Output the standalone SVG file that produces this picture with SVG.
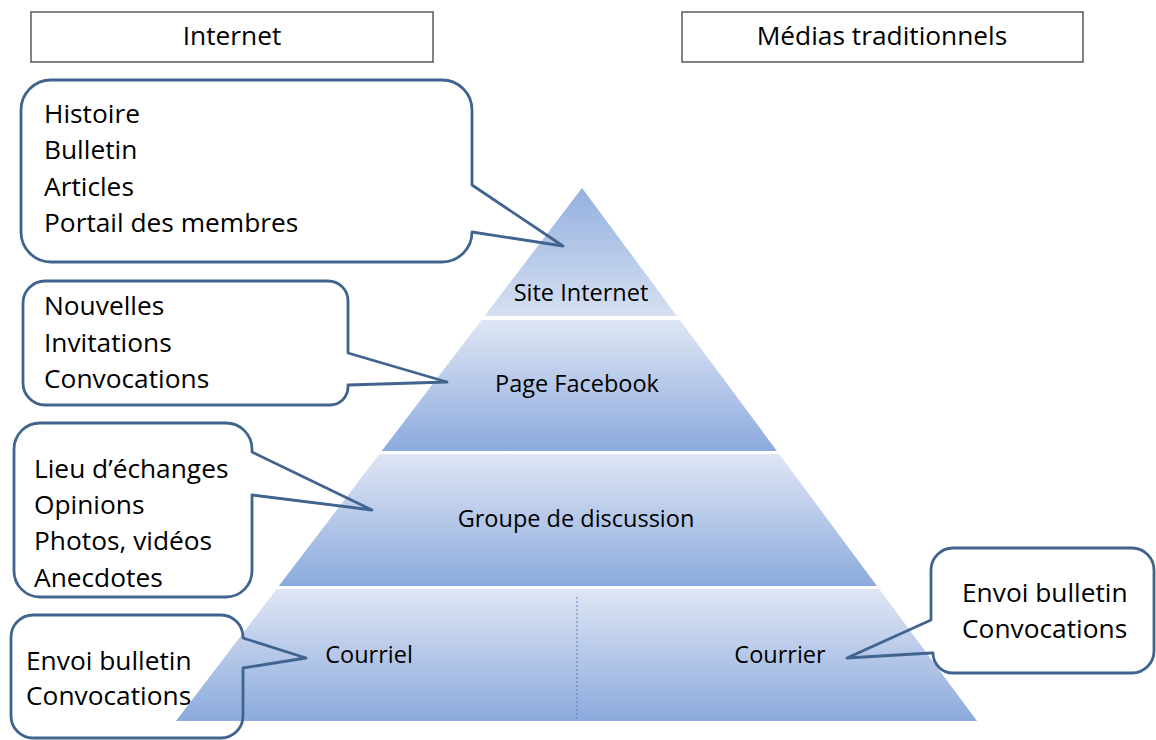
<svg xmlns="http://www.w3.org/2000/svg" width="1156" height="740" viewBox="0 0 1156 740">
  <style>
    .hdr { fill: #ffffff; stroke: #595959; stroke-width: 1.5; }
    .callout { fill: none; stroke: #41648f; stroke-width: 2.8; stroke-linejoin: round; }
    .txt { font-family: "Open Sans", "Noto Sans", sans-serif; fill: #000000; }
    .big { font-size: 26.3px; }
    .lbl { font-size: 23.5px; text-anchor: middle; }
    .hdrtxt { font-size: 26.3px; text-anchor: middle; }
  </style>
  <defs>
    <linearGradient id="bandFill" x1="0" y1="0" x2="0" y2="1">
      <stop offset="0" stop-color="#dfe6f4"/>
      <stop offset="1" stop-color="#8caadd"/>
    </linearGradient>
    <linearGradient id="topFill" x1="0" y1="0" x2="0" y2="1">
      <stop offset="0" stop-color="#93b0df"/>
      <stop offset="1" stop-color="#d7e0f2"/>
    </linearGradient>
  </defs>

  <rect width="1156" height="740" fill="#ffffff"/>

  <!-- column headers -->
  <g id="hdr-internet">
    <rect class="hdr" x="31" y="12" width="402" height="50"/>
    <text class="txt hdrtxt" x="232" y="45">Internet</text>
  </g>
  <g id="hdr-medias">
    <rect class="hdr" x="682" y="12" width="401" height="50"/>
    <text class="txt hdrtxt" x="882" y="45">Médias traditionnels</text>
  </g>

  <!-- pyramid levels -->
  <g id="level-site">
    <polygon points="582,188 676.9,316 484.5,316" fill="url(#topFill)"/>
    <text class="txt lbl" x="581" y="301">Site Internet</text>
  </g>
  <g id="level-facebook">
    <polygon points="481.5,320 679.8,320 776.9,451 381.7,451" fill="url(#bandFill)"/>
    <text class="txt lbl" x="577" y="392">Page Facebook</text>
  </g>
  <g id="level-groupe">
    <polygon points="379.4,454 779.1,454 877,586 278.8,586" fill="url(#bandFill)"/>
    <text class="txt lbl" x="576" y="527">Groupe de discussion</text>
  </g>
  <g id="level-courrier">
    <polygon points="276.6,589 879.2,589 977,721 176,721" fill="url(#bandFill)"/>
    <line x1="577" y1="597" x2="577" y2="719" stroke="#5b7fc2" stroke-width="1" stroke-dasharray="2 2"/>
    <text class="txt lbl" x="369" y="663">Courriel</text>
    <text class="txt lbl" x="780" y="663">Courrier</text>
  </g>

  <!-- callout outlines -->
  <g id="connectors">
    <path class="callout" d="M51,80 H442 A30,30 0 0 1 472,110 V185 L563,246 L472,232 A30,30 0 0 1 442,262 H51 A30,30 0 0 1 21,232 V110 A30,30 0 0 1 51,80 Z"/>
    <path class="callout" d="M45,281 H328 A20,20 0 0 1 348,301 V353 L447,382 L348,385 V387 A18,18 0 0 1 330,405 H45 A22,22 0 0 1 23,383 V303 A22,22 0 0 1 45,281 Z"/>
    <path class="callout" d="M40,423 H226 A26,26 0 0 1 252,449 V452 L372,510 L252,495 V571 A26,26 0 0 1 226,597 H40 A26,26 0 0 1 14,571 V449 A26,26 0 0 1 40,423 Z"/>
    <path class="callout" d="M33,615 H221 A22,22 0 0 1 243,637 V638 L306,658 L243,668 V716 A22,22 0 0 1 221,738 H33 A22,22 0 0 1 11,716 V637 A22,22 0 0 1 33,615 Z"/>
    <path class="callout" d="M953,548 H1132 A22,22 0 0 1 1154,570 V651 A22,22 0 0 1 1132,673 H953 A20,20 0 0 1 933,653 L931,653 L847,658 L931,620 V570 A22,22 0 0 1 953,548 Z"/>
  </g>

  <!-- callout texts -->
  <g id="note-site">
    <text class="txt big" x="44" y="123">Histoire</text>
    <text class="txt big" x="44" y="159">Bulletin</text>
    <text class="txt big" x="44" y="196">Articles</text>
    <text class="txt big" x="44" y="232">Portail des membres</text>
  </g>
  <g id="note-facebook">
    <text class="txt big" x="44" y="315">Nouvelles</text>
    <text class="txt big" x="44" y="352">Invitations</text>
    <text class="txt big" x="44" y="388">Convocations</text>
  </g>
  <g id="note-groupe">
    <text class="txt big" x="34" y="478">Lieu d’échanges</text>
    <text class="txt big" x="34" y="514">Opinions</text>
    <text class="txt big" x="34" y="550">Photos, vidéos</text>
    <text class="txt big" x="34" y="587">Anecdotes</text>
  </g>
  <g id="note-courriel">
    <text class="txt big" x="26" y="670">Envoi bulletin</text>
    <text class="txt big" x="26" y="705">Convocations</text>
  </g>
  <g id="note-courrier">
    <text class="txt big" x="962" y="602">Envoi bulletin</text>
    <text class="txt big" x="962" y="638">Convocations</text>
  </g>
</svg>
